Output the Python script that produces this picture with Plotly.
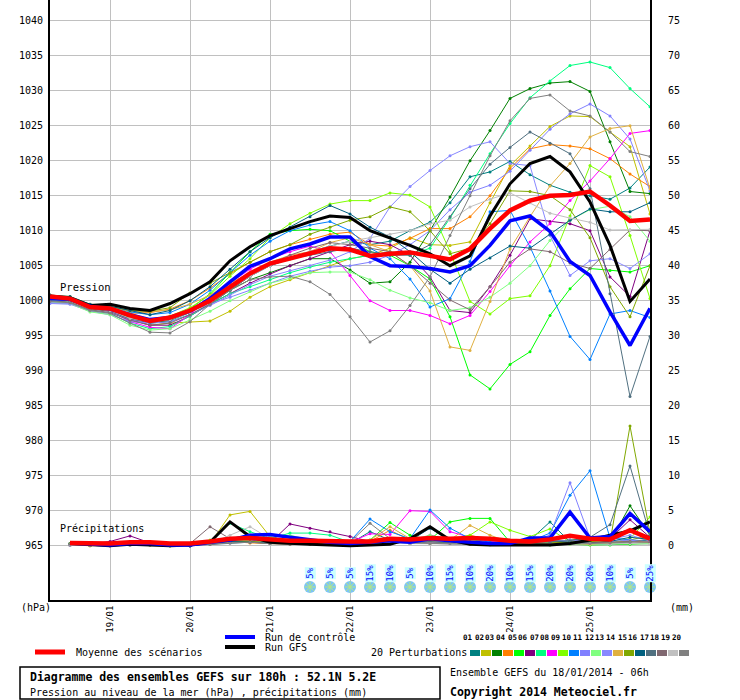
import plotly.graph_objects as go

# time axis : run of 18/01/2014 06h, one step every 6 hours
hours = list(range(0, 181, 6))
rain_hours = hours[1:]
day_hours = [18, 42, 66, 90, 114, 138, 162]
day_labels = ['19/01', '20/01', '21/01', '22/01', '23/01', '24/01', '25/01']
p_ticks = list(range(965, 1041, 5))
mm_ticks = list(range(0, 76, 5))

# pression au niveau de la mer (hPa), perturbations 01..20
p01 = [1000.3, 1000.2, 999.0, 998.7, 997.5, 996.8, 997.0, 998.0, 999.5, 1001.5, 1003.5, 1005.0, 1006.0, 1007.0, 1007.8, 1008.5, 1008.0, 1008.5, 1010.0, 1011.2, 1014.0, 1017.7, 1018.4, 1019.9, 1018.0, 1016.5, 1015.5, 1015.0, 1014.5, 1016.1, 1019.1]
p02 = [999.8, 999.6, 998.8, 998.5, 997.5, 996.5, 996.8, 997.0, 997.1, 998.5, 1000.5, 1002.0, 1003.0, 1004.0, 1005.0, 1006.0, 1006.5, 1007.5, 1009.0, 1008.0, 1007.9, 1008.4, 1014.0, 1019.3, 1022.1, 1024.9, 1026.4, 1026.3, 1024.1, 1022.0, 1012.4]
p03 = [1000.5, 1000.3, 999.2, 998.8, 997.6, 996.8, 997.2, 998.3, 1000.0, 1001.5, 1003.0, 1004.0, 1005.0, 1006.0, 1006.0, 1004.4, 1002.5, 1002.7, 1005.5, 1010.0, 1014.8, 1020.0, 1024.3, 1028.9, 1030.3, 1031.1, 1031.3, 1029.9, 1022.7, 1015.6, 1015.3]
p04 = [1000.7, 1000.5, 999.3, 999.0, 998.2, 998.3, 998.8, 1000.0, 1001.8, 1003.8, 1005.5, 1007.0, 1008.0, 1008.8, 1009.5, 1009.8, 1008.0, 1007.8, 1008.9, 1010.3, 1010.3, 1012.0, 1015.0, 1018.9, 1021.7, 1022.3, 1022.1, 1021.7, 1020.3, 1018.1, 1016.3]
p05 = [1000.6, 1000.4, 999.2, 998.9, 998.0, 997.0, 997.3, 998.8, 1001.0, 1004.0, 1007.0, 1009.5, 1010.0, 1010.2, 1010.0, 1008.5, 1007.0, 1006.5, 1005.0, 1003.1, 997.7, 989.4, 987.4, 990.9, 992.7, 997.9, 1001.7, 1004.6, 1004.3, 1004.1, 1005.0]
p06 = [1000.2, 1000.0, 998.9, 998.5, 997.3, 996.5, 996.5, 997.8, 999.5, 1001.0, 1002.5, 1003.8, 1005.0, 1006.0, 1007.0, 1008.0, 1008.5, 1008.0, 1006.5, 1003.4, 998.6, 998.3, 1002.0, 1006.5, 1011.7, 1011.3, 1011.0, 1010.0, 1003.4, 1000.6, 1010.0]
p07 = [1000.0, 999.8, 998.6, 998.2, 996.8, 996.0, 996.3, 997.8, 999.5, 1001.0, 1002.0, 1003.0, 1004.0, 1004.8, 1005.5, 1006.0, 1006.5, 1007.0, 1006.5, 1007.5, 1011.8, 1016.5, 1021.0, 1025.3, 1029.0, 1031.4, 1033.6, 1034.1, 1033.3, 1030.3, 1027.7]
p08 = [1000.4, 1000.1, 999.0, 998.6, 997.0, 996.2, 996.0, 998.0, 1000.5, 1002.5, 1004.5, 1006.0, 1007.0, 1007.8, 1007.0, 1003.6, 1000.0, 998.6, 998.6, 997.9, 996.7, 997.9, 1001.3, 1005.0, 1008.4, 1011.0, 1014.3, 1017.1, 1020.3, 1023.9, 1024.3]
p09 = [1000.5, 1000.4, 999.3, 999.0, 998.0, 997.3, 997.8, 999.0, 1000.8, 1003.5, 1006.0, 1009.0, 1011.0, 1012.5, 1013.8, 1014.3, 1014.3, 1015.4, 1015.1, 1013.4, 1007.0, 999.9, 998.1, 1000.3, 1000.7, 1005.0, 1012.1, 1019.3, 1017.7, 1009.3, 1000.3]
p10 = [1000.6, 1000.5, 999.4, 999.1, 998.4, 998.0, 998.3, 999.5, 1001.5, 1004.0, 1006.5, 1008.5, 1010.0, 1010.8, 1011.3, 1010.0, 1007.5, 1006.0, 1003.1, 999.1, 1000.3, 1005.6, 1012.7, 1012.9, 1007.7, 1001.4, 994.9, 991.6, 998.1, 998.6, 997.6]
p11 = [999.6, 999.5, 998.5, 998.0, 997.0, 996.8, 997.5, 998.5, 999.5, 1000.5, 1001.5, 1002.5, 1003.5, 1004.2, 1004.8, 1005.0, 1005.5, 1006.5, 1008.0, 1010.0, 1013.0, 1015.5, 1016.5, 1018.5, 1021.5, 1024.5, 1026.7, 1028.1, 1026.4, 1023.1, 1015.7]
p12 = [999.8, 999.6, 998.4, 998.0, 996.5, 995.8, 996.0, 997.3, 998.5, 1000.0, 1001.3, 1002.5, 1003.2, 1004.0, 1004.1, 1004.1, 1003.0, 1001.5, 1000.4, 999.7, 998.6, 999.0, 1000.5, 1002.5, 1005.0, 1008.6, 1011.5, 1013.0, 1013.5, 1012.0, 1008.5]
p13 = [999.7, 999.6, 998.7, 998.3, 997.3, 996.8, 997.0, 998.0, 999.3, 1000.8, 1002.3, 1003.5, 1004.3, 1005.0, 1005.8, 1007.0, 1008.9, 1013.4, 1016.3, 1018.6, 1020.7, 1022.0, 1022.7, 1019.6, 1019.3, 1009.3, 1003.6, 1005.7, 1006.0, 1004.6, 1006.7]
p14 = [1000.7, 1000.5, 999.4, 999.1, 998.5, 998.4, 998.7, 999.5, 1000.8, 1002.5, 1004.0, 1005.5, 1006.5, 1007.0, 1008.3, 1009.0, 1008.0, 1007.0, 1005.0, 1001.4, 993.4, 992.9, 999.9, 1007.4, 1012.0, 1016.4, 1019.6, 1023.4, 1024.6, 1025.0, 1016.0]
p15 = [1000.8, 1000.6, 999.5, 999.2, 998.6, 998.5, 999.0, 1001.1, 1002.5, 1004.0, 1005.5, 1007.0, 1008.0, 1009.5, 1010.5, 1011.5, 1012.0, 1013.4, 1012.7, 1010.0, 1006.7, 1007.5, 1011.0, 1015.7, 1015.6, 1015.0, 1013.0, 1009.0, 1002.0, 997.7, 1005.0]
p16 = [1000.8, 1000.6, 999.5, 999.2, 998.6, 998.0, 998.6, 1000.0, 1002.0, 1004.5, 1007.0, 1009.0, 1010.5, 1012.0, 1013.6, 1012.4, 1010.5, 1009.1, 1007.0, 1004.5, 1002.5, 1004.5, 1006.1, 1007.8, 1007.5, 1009.5, 1011.5, 1013.1, 1012.7, 1012.7, 1014.0]
p17 = [1000.2, 1000.0, 998.9, 998.5, 997.4, 996.9, 997.2, 998.4, 1000.0, 1001.8, 1003.5, 1005.0, 1006.0, 1006.5, 1007.0, 1007.5, 1007.0, 1006.5, 1006.5, 1008.0, 1012.0, 1016.0, 1019.5, 1021.9, 1024.1, 1022.5, 1021.0, 1016.0, 1001.0, 986.3, 994.9]
p18 = [1000.0, 999.8, 998.7, 998.3, 997.2, 996.5, 996.8, 998.0, 999.5, 1001.5, 1003.5, 1005.2, 1006.5, 1007.5, 1008.3, 1008.0, 1007.5, 1007.0, 1005.0, 1002.5, 1000.1, 998.7, 1002.0, 1005.5, 1007.4, 1007.0, 1005.4, 1004.6, 1007.3, 1010.1, 1010.0]
p19 = [1000.3, 1000.1, 999.0, 998.6, 997.5, 997.0, 997.3, 998.3, 1000.0, 1001.8, 1003.5, 1005.0, 1006.2, 1007.0, 1007.8, 1008.5, 1009.0, 1009.5, 1010.0, 1011.0, 1011.5, 1013.4, 1014.5, 1015.4, 1014.0, 1012.5, 1011.8, 1011.2, 1010.1, 1010.1, 1010.2]
p20 = [999.9, 999.7, 998.6, 998.2, 996.8, 995.5, 995.4, 997.0, 999.5, 1001.5, 1003.0, 1003.4, 1003.5, 1002.7, 1000.9, 997.7, 994.1, 995.7, 999.3, 1003.4, 1009.3, 1015.0, 1020.7, 1025.7, 1028.9, 1029.4, 1027.1, 1026.4, 1024.1, 1021.3, 1020.6]
p_ctrl = [1000.3, 1000.2, 999.2, 998.8, 998.0, 997.3, 997.6, 998.5, 1000.3, 1002.7, 1004.9, 1006.0, 1007.4, 1008.1, 1009.1, 1009.1, 1006.3, 1005.0, 1004.9, 1004.6, 1004.1, 1005.0, 1007.9, 1011.4, 1012.1, 1009.9, 1005.6, 1003.6, 998.4, 993.6, 998.9]
p_gfs = [1000.6, 1000.4, 999.3, 999.5, 998.9, 998.6, 999.6, 1001.0, 1002.7, 1005.7, 1007.7, 1009.3, 1010.3, 1011.3, 1012.1, 1011.9, 1010.0, 1009.0, 1007.9, 1006.7, 1005.0, 1006.4, 1012.1, 1016.7, 1019.6, 1020.6, 1018.4, 1014.1, 1007.9, 999.9, 1003.1]
p_mean = [1000.6, 1000.3, 999.1, 998.9, 997.9, 997.1, 997.6, 998.6, 1000.0, 1002.0, 1003.9, 1005.3, 1006.0, 1006.7, 1007.5, 1007.3, 1006.4, 1006.7, 1006.9, 1006.4, 1005.9, 1007.4, 1010.3, 1012.9, 1014.3, 1015.0, 1015.1, 1015.6, 1013.6, 1011.4, 1011.6]

# precipitations (mm) par pas de 6h
r01 = [0.2, 0.1, 0.1, 0.2, 0.2, 0.1, 0.0, 0.2, 0.5, 0.8, 0.6, 0.4, 0.3, 0.2, 0.3, 2.0, 0.8, 0.4, 0.5, 0.3, 0.3, 0.2, 0.3, 0.8, 3.4, 0.5, 0.3, 0.4, 0.6, 0.8]
r02 = [0.1, 0.0, 0.2, 0.5, 0.4, 0.1, 0.0, 0.3, 4.4, 4.9, 1.3, 0.5, 0.3, 0.2, 0.2, 0.4, 0.6, 0.3, 0.4, 0.8, 0.6, 0.4, 0.3, 0.2, 0.3, 0.2, 0.4, 0.3, 0.8, 1.5]
r03 = [0.2, 0.1, 0.0, 0.1, 0.2, 0.1, 0.0, 0.4, 0.8, 0.6, 0.5, 0.8, 0.7, 0.3, 0.2, 0.3, 0.5, 0.4, 0.6, 0.5, 0.3, 0.2, 0.2, 0.4, 0.6, 0.8, 1.0, 0.5, 5.7, 1.5]
r04 = [0.1, 0.0, 0.1, 0.2, 0.1, 0.0, 0.1, 0.3, 0.6, 0.4, 0.3, 0.2, 0.3, 0.4, 0.5, 0.6, 2.2, 0.8, 0.5, 0.6, 1.5, 0.8, 0.3, 0.2, 0.4, 0.3, 0.2, 0.3, 0.5, 0.7]
r05 = [0.2, 0.1, 0.1, 0.3, 0.2, 0.0, 0.1, 0.4, 1.0, 0.8, 0.6, 0.4, 0.5, 0.3, 0.4, 0.8, 3.3, 1.5, 0.8, 3.4, 3.9, 3.9, 0.5, 0.2, 0.1, 0.2, 0.1, 0.1, 0.2, 0.3]
r06 = [0.3, 0.2, 0.6, 1.4, 0.4, 0.2, 0.0, 0.3, 0.8, 0.6, 0.4, 3.1, 2.5, 2.0, 1.3, 0.6, 0.4, 0.5, 1.5, 0.8, 0.5, 0.3, 0.2, 0.3, 0.4, 0.5, 0.6, 1.0, 3.7, 1.2]
r07 = [0.2, 0.1, 0.2, 0.4, 0.3, 0.0, 0.1, 0.6, 3.2, 2.0, 1.0, 1.8, 1.8, 1.5, 0.5, 0.4, 0.8, 0.5, 1.0, 1.0, 0.6, 1.0, 0.4, 0.3, 0.2, 0.3, 0.2, 0.2, 0.5, 0.4]
r08 = [0.1, 0.1, 0.0, 0.2, 0.3, 0.1, 0.0, 0.2, 0.6, 0.8, 0.5, 0.4, 0.3, 0.4, 0.5, 1.7, 1.6, 5.0, 4.9, 2.0, 1.2, 0.6, 0.4, 0.3, 0.2, 0.3, 0.4, 0.3, 0.5, 0.6]
r09 = [0.2, 0.1, 0.1, 0.3, 0.2, 0.0, 0.1, 0.8, 1.0, 0.6, 0.4, 0.3, 0.3, 0.4, 0.5, 0.6, 0.8, 0.5, 0.7, 1.0, 1.5, 3.4, 2.2, 1.3, 2.4, 0.5, 0.3, 0.4, 1.0, 4.1]
r10 = [0.3, 0.2, 0.1, 0.2, 0.3, 0.1, 0.0, 0.3, 0.7, 0.8, 0.5, 0.4, 0.3, 0.5, 0.6, 3.8, 2.0, 1.0, 5.1, 2.5, 1.0, 0.5, 0.4, 0.6, 1.8, 7.2, 10.7, 1.1, 0.8, 0.6]
r11 = [0.1, 0.1, 0.0, 0.1, 0.2, 0.1, 0.0, 0.2, 0.5, 0.7, 0.4, 0.3, 0.2, 0.3, 0.4, 0.5, 0.4, 0.3, 0.4, 0.5, 0.3, 0.2, 0.3, 0.6, 1.5, 9.0, 1.1, 0.6, 0.8, 0.5]
r12 = [0.2, 0.1, 0.1, 0.2, 0.1, 0.0, 0.1, 0.3, 0.6, 0.8, 1.2, 1.5, 0.8, 0.5, 0.4, 0.5, 0.6, 0.8, 1.5, 0.7, 0.5, 0.4, 0.3, 0.5, 0.4, 0.3, 0.2, 0.3, 0.4, 0.3]
r13 = [0.1, 0.1, 0.1, 0.2, 0.2, 0.1, 0.0, 0.3, 0.5, 0.6, 0.4, 0.3, 0.3, 0.2, 0.3, 0.4, 0.5, 0.4, 0.6, 0.5, 0.3, 0.2, 0.3, 0.4, 0.6, 0.8, 0.6, 0.9, 1.5, 0.7]
r14 = [0.2, 0.1, 0.0, 0.1, 0.2, 0.0, 0.1, 0.2, 0.5, 0.6, 0.4, 0.3, 0.2, 0.3, 0.5, 0.8, 2.7, 1.0, 0.6, 0.8, 2.9, 1.5, 0.5, 0.3, 0.2, 0.3, 0.2, 0.4, 0.6, 0.5]
r15 = [0.3, 0.2, 0.1, 0.2, 0.3, 0.1, 0.0, 0.4, 0.7, 0.6, 0.5, 0.3, 0.2, 0.3, 0.4, 0.3, 0.5, 0.4, 0.3, 0.5, 0.4, 0.3, 0.2, 0.3, 0.4, 0.5, 0.6, 0.5, 17.1, 1.8]
r16 = [0.2, 0.1, 0.1, 0.2, 0.2, 0.1, 0.0, 0.3, 0.6, 0.5, 0.4, 0.5, 0.4, 0.3, 0.3, 0.6, 0.8, 0.7, 2.5, 0.8, 0.5, 0.4, 0.5, 0.6, 0.7, 0.5, 0.4, 0.6, 1.2, 0.9]
r17 = [0.1, 0.1, 0.1, 0.1, 0.2, 0.1, 0.0, 0.2, 0.4, 0.5, 0.3, 0.2, 0.3, 0.4, 0.3, 0.4, 0.5, 0.4, 0.6, 0.4, 0.3, 0.2, 0.3, 0.4, 0.5, 0.7, 1.2, 3.0, 11.4, 1.5]
r18 = [0.2, 0.1, 0.1, 0.2, 0.2, 0.1, 0.3, 2.7, 1.0, 1.5, 0.8, 0.5, 0.4, 0.3, 0.3, 0.4, 0.5, 0.4, 0.3, 0.3, 0.2, 0.3, 0.4, 0.3, 0.2, 0.3, 0.4, 0.5, 0.6, 0.5]
r19 = [0.1, 0.1, 0.0, 0.1, 0.1, 0.0, 0.1, 0.3, 1.5, 2.7, 1.0, 0.4, 0.3, 0.2, 0.2, 0.3, 0.4, 0.3, 0.3, 0.2, 0.2, 0.1, 0.2, 0.2, 0.1, 0.2, 0.3, 0.2, 0.3, 0.2]
r20 = [0.2, 0.1, 0.1, 0.2, 0.1, 0.0, 0.1, 0.2, 0.4, 0.5, 0.3, 0.2, 0.2, 0.3, 0.5, 3.2, 1.0, 0.4, 0.3, 0.3, 0.2, 0.2, 0.3, 0.2, 0.2, 0.3, 0.3, 0.4, 0.5, 1.0]
r_ctrl = [0.4, 0.2, 0.1, 0.3, 0.3, 0.1, 0.1, 0.5, 0.8, 1.5, 1.6, 1.2, 0.8, 0.5, 0.3, 0.5, 0.7, 0.5, 1.0, 0.7, 0.5, 0.3, 0.3, 1.1, 1.1, 4.8, 1.1, 1.3, 4.6, 2.0]
r_gfs = [0.3, 0.1, 0.0, 0.2, 0.1, 0.0, 0.1, 0.5, 3.4, 1.3, 0.5, 0.3, 0.2, 0.1, 0.0, 0.1, 0.2, 1.0, 2.7, 0.8, 0.2, 0.1, 0.1, 0.0, 0.1, 0.3, 0.8, 1.5, 2.1, 3.4]
r_mean = [0.4, 0.3, 0.3, 0.5, 0.5, 0.3, 0.3, 0.6, 1.0, 1.1, 0.9, 0.7, 0.7, 0.6, 0.6, 0.6, 1.0, 0.9, 1.1, 1.0, 1.1, 1.0, 0.7, 0.6, 0.9, 1.4, 1.0, 0.9, 2.2, 1.0]

# probabilite de neige (%) a partir de 21/01 12h
snow_pct = [5, 5, 5, 15, 10, 5, 10, 15, 10, 20, 10, 15, 20, 20, 20, 10, 5, 25]
snow_hours = hours[13:]

colors = ['#008080', '#c0c000', '#008000', '#ff8000', '#00ff00', '#800080', '#00ff80',
          '#ff00ff', '#80ff00', '#0080ff', '#8080ff', '#80ff80', '#8888ff', '#e0b040',
          '#80a800', '#006080', '#507080', '#806870', '#c0c0c0', '#808080']
pres = [p01, p02, p03, p04, p05, p06, p07, p08, p09, p10,
        p11, p12, p13, p14, p15, p16, p17, p18, p19, p20]
rain = [r01, r02, r03, r04, r05, r06, r07, r08, r09, r10,
        r11, r12, r13, r14, r15, r16, r17, r18, r19, r20]

Y_LO, Y_HI = 957.24, 1042.96
MONO = 'DejaVu Sans Mono'


def px(x):
    return (x - 50) / 600


def py(y):
    return (600 - y) / 600


fig = go.Figure()

for c, p, r in zip(colors, pres, rain):
    fig.add_trace(go.Scatter(x=hours, y=p, mode='lines+markers', line=dict(color=c, width=1),
                             marker=dict(color=c, size=3), hoverinfo='skip'))
    fig.add_trace(go.Scatter(x=rain_hours, y=r, yaxis='y2', mode='lines+markers',
                             line=dict(color=c, width=1), marker=dict(color=c, size=3),
                             hoverinfo='skip'))

for p, r, c, w in [(p_gfs, r_gfs, 'black', 3), (p_ctrl, r_ctrl, '#0000ff', 3.5),
                   (p_mean, r_mean, '#ff0000', 4.5)]:
    fig.add_trace(go.Scatter(x=hours, y=p, mode='lines', line=dict(color=c, width=w)))
    fig.add_trace(go.Scatter(x=rain_hours, y=r, yaxis='y2', mode='lines',
                             line=dict(color=c, width=w)))

# flocons
fig.add_trace(go.Scatter(x=snow_hours, y=[959.1] * len(snow_hours), mode='markers',
                         marker=dict(symbol='circle', size=12, color='#7cc4f4'),
                         cliponaxis=False, hoverinfo='skip'))
fig.add_trace(go.Scatter(x=snow_hours, y=[959.1] * len(snow_hours), mode='markers',
                         marker=dict(symbol='asterisk-open', size=9,
                                     line=dict(color='#e8f6ff', width=1)),
                         cliponaxis=False, hoverinfo='skip'))

annotations = []
for h, pct in zip(snow_hours, snow_pct):
    annotations.append(dict(x=h, y=961.0, xref='x', yref='y', text=f'{pct}%', showarrow=False,
                            textangle=-90, font=dict(family=MONO, size=9, color='#0000ff'),
                            bgcolor='#ccffff', borderpad=0))


def label(x, y, text, size=10, bold=False, anchor='left'):
    if bold:
        text = f'<b>{text}</b>'
    annotations.append(dict(x=px(x), y=py(y), xref='paper', yref='paper', text=text,
                            showarrow=False, xanchor=anchor, yanchor='middle',
                            font=dict(family=MONO, size=size, color='black')))


label(58, 287, 'Pression', 10.5)
label(58, 528, 'Précipitations', 10)
label(19, 607, '(hPa)', 10)
label(668, 607, '(mm)', 10)
label(74, 652, 'Moyenne des scénarios', 10)
label(263, 637, 'Run de contrôle', 10)
label(263, 647, 'Run GFS', 10)
label(369, 652, '20 Perturbations', 10)
label(28, 677, 'Diagramme des ensembles GEFS sur 180h : 52.1N 5.2E', 11.5, True)
label(28, 692, 'Pression au niveau de la mer (hPa) , précipitations (mm)', 10)
label(448, 672, 'Ensemble GEFS du 18/01/2014 - 06h', 10)
label(448, 692, 'Copyright 2014 Meteociel.fr', 11.5, True)

shapes = [
    dict(type='line', xref='paper', yref='paper', x0=px(35), x1=px(65), y0=py(652), y1=py(652),
         line=dict(color='#ff0000', width=5)),
    dict(type='line', xref='paper', yref='paper', x0=px(225), x1=px(255), y0=py(637), y1=py(637),
         line=dict(color='#0000ff', width=4)),
    dict(type='line', xref='paper', yref='paper', x0=px(225), x1=px(255), y0=py(647), y1=py(647),
         line=dict(color='black', width=4)),
    dict(type='rect', xref='paper', yref='paper', x0=px(20), x1=px(440), y0=py(699), y1=py(667),
         line=dict(color='black', width=1.5)),
]
for i, c in enumerate(colors):
    x0 = 470 + 11 * i
    shapes.append(dict(type='rect', xref='paper', yref='paper', x0=px(x0), x1=px(x0 + 10),
                       y0=py(656), y1=py(650), fillcolor=c, line=dict(width=0)))
    annotations.append(dict(x=px(x0 + 5), y=py(644), xref='paper', yref='paper',
                            text=f'<b>{i + 1:02d}</b>', showarrow=False,
                            font=dict(family=MONO, size=7.5, color='black')))

fig.update_layout(
    width=740, height=700, autosize=False,
    margin=dict(l=50, r=90, t=0, b=100),
    paper_bgcolor='white', plot_bgcolor='white',
    showlegend=False,
    font=dict(family=MONO, size=10, color='black'),
    xaxis=dict(range=[0, 180], tickvals=day_hours, ticktext=day_labels, tickangle=-90,
               showgrid=True, gridcolor='#c0c0c0', gridwidth=1, zeroline=False,
               showline=True, linecolor='black', linewidth=2, ticks='',
               ticklabelstandoff=0, tickfont=dict(family=MONO, size=9)),
    yaxis=dict(range=[Y_LO, Y_HI], tickvals=p_ticks, showgrid=True, gridcolor='#c0c0c0',
               gridwidth=1, zeroline=False, showline=True, linecolor='black', linewidth=2,
               ticks='', ticklabelstandoff=3, tickfont=dict(family=MONO, size=10)),
    yaxis2=dict(range=[Y_LO - 965, Y_HI - 965], overlaying='y', side='right', tickvals=mm_ticks,
                showgrid=False, zeroline=False, showline=True, linecolor='black', linewidth=2,
                ticks='', ticklabelstandoff=14, tickfont=dict(family=MONO, size=10)),
    annotations=annotations,
    shapes=shapes,
)

# the page body has a default 8px margin, remove it so the chart sits at the window corner
fig.write_html("out.html", config={'displayModeBar': False},
               post_script="document.body.style.margin = '0';")
